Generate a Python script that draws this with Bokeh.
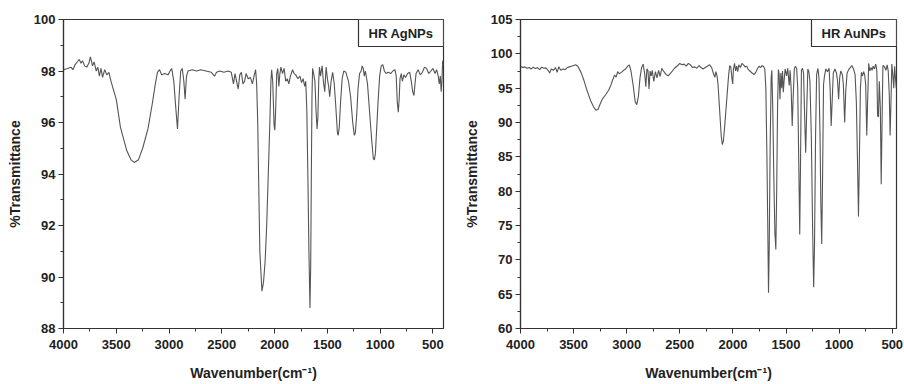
from bokeh.plotting import figure
from bokeh.models import Range1d, SingleIntervalTicker, Label
from bokeh.layouts import row
from bokeh.embed import file_html
from bokeh.resources import INLINE

# ---------------- data: HR AgNPs ----------------
ag_wn = [4000, 3960, 3930, 3910, 3890, 3870, 3850, 3835, 3820, 3800, 3780, 3760, 3745, 3725, 3710,
         3690, 3675, 3660, 3645, 3630, 3610, 3590, 3570, 3550, 3500, 3460, 3400, 3360, 3330, 3290,
         3250, 3200, 3160, 3130, 3110, 3090, 3070, 3040, 3010, 2990, 2975, 2955, 2935, 2920, 2905,
         2890, 2875, 2860, 2848, 2835, 2820, 2780, 2740, 2700, 2650, 2600, 2570, 2550, 2520, 2480,
         2440, 2410, 2390, 2375, 2360, 2345, 2330, 2315, 2300, 2285, 2270, 2250, 2230, 2210, 2195,
         2180, 2170, 2160, 2150, 2140, 2120, 2105, 2090, 2075, 2060, 2045, 2035, 2028, 2018, 2005,
         1998, 1990, 1980, 1970, 1960, 1950, 1940, 1925, 1910, 1895, 1880, 1865, 1850, 1830, 1815,
         1800, 1780, 1760, 1745, 1730, 1715, 1705, 1695, 1685, 1675, 1665, 1658, 1652, 1646, 1640,
         1630, 1618, 1608, 1598, 1590, 1582, 1575, 1565, 1550, 1538, 1525, 1512, 1500, 1488, 1478,
         1465, 1450, 1435, 1420, 1405, 1398, 1388, 1375, 1360, 1345, 1325, 1300, 1280, 1260, 1245,
         1235, 1222, 1210, 1195, 1180, 1170, 1160, 1150, 1140, 1120, 1100, 1080, 1065, 1055, 1045,
         1035, 1020, 1005, 990, 975, 960, 945, 925, 900, 880, 860, 848, 838, 828, 820,
         812, 800, 790, 775, 760, 740, 720, 705, 692, 680, 670, 660, 640, 620, 600,
         580, 560, 540, 520, 500, 480, 465, 450, 440, 430, 422, 415, 408, 400]
ag_t = [98.05, 98.1, 98.15, 98.05, 98.25, 98.35, 98.45, 98.3, 98.4, 98.2, 98.15, 98.3, 98.55, 98.2, 98.35,
        98.0, 98.15, 97.8, 98.1, 97.75, 98.05, 97.85, 97.95, 97.6, 96.9, 95.8, 94.9, 94.55, 94.45, 94.55,
        95.0, 95.75, 96.7, 97.5, 97.95, 98.05, 97.85, 97.9, 97.85, 98.0, 98.1, 97.6, 96.5, 95.75, 97.0,
        98.0, 98.1, 97.6, 96.9, 97.8, 98.0, 98.05, 98.0, 98.05, 98.0, 97.95, 97.8, 97.95, 98.0, 97.95,
        98.0, 97.95, 97.5, 97.9, 97.6, 97.3, 97.85, 97.95, 97.5, 97.6, 97.9, 97.7, 97.75, 97.5, 97.8,
        98.05, 97.5, 96.0, 93.5, 91.0, 89.45, 89.8, 90.6, 92.0, 94.0, 96.0, 97.6, 98.05, 97.6, 95.9,
        95.7, 96.5, 97.9, 98.1, 97.4, 97.9, 98.15, 97.9, 98.1, 97.6, 97.7, 97.5, 97.8, 98.05, 97.9,
        97.85, 97.7, 97.8, 97.55, 97.7, 97.4, 97.6, 96.5, 94.0, 91.0, 88.8, 90.5, 94.0, 97.0, 98.1,
        97.9, 97.6, 96.5, 95.75, 96.2, 97.6, 98.15, 97.8, 98.2, 97.6, 97.2, 98.15, 97.7, 97.4, 97.0,
        97.6, 97.95, 97.5, 96.6, 95.6, 95.5, 95.8, 96.8, 97.7, 98.0, 97.95, 97.6, 97.0, 96.0, 95.5,
        95.6, 96.3, 97.3, 97.9, 98.0, 98.2, 98.1, 97.8, 98.0, 97.5, 96.4, 95.3, 94.6, 94.55, 94.8,
        95.6, 96.8, 97.8, 98.2, 98.25, 98.0, 97.9, 97.95, 97.9, 98.0, 98.05, 97.8, 96.8, 96.4, 96.9,
        97.7, 97.9, 97.6, 97.85, 97.75, 97.9, 97.95, 97.6, 97.2, 97.05, 97.5, 97.9, 98.05, 97.85, 97.95,
        98.15, 98.1, 97.9, 98.0, 98.1, 97.9, 98.05, 97.8, 97.5, 97.8, 97.2, 97.6, 98.4, 98.2]

# ---------------- data: HR AuNPs ----------------
au_wn = [4000, 3980, 3960, 3940, 3920, 3900, 3880, 3860, 3840, 3820, 3800, 3780, 3760, 3740, 3725,
         3710, 3690, 3670, 3655, 3640, 3620, 3600, 3580, 3560, 3540, 3520, 3500, 3480, 3460, 3430,
         3400, 3370, 3340, 3310, 3290, 3270, 3250, 3230, 3200, 3170, 3150, 3130, 3115, 3100, 3085,
         3070, 3050, 3030, 3010, 2990, 2975, 2960, 2940, 2920, 2905, 2890, 2875, 2860, 2845, 2830,
         2820, 2810, 2800, 2790, 2780, 2770, 2760, 2745, 2730, 2715, 2700, 2685, 2670, 2650, 2630,
         2610, 2580, 2550, 2520, 2500, 2480, 2460, 2440, 2420, 2400, 2380, 2360, 2340, 2320, 2300,
         2280, 2260, 2240, 2220, 2200, 2185, 2170, 2160, 2150, 2140, 2130, 2120, 2110, 2100, 2090,
         2080, 2070, 2060, 2050, 2040, 2030, 2020, 2010, 2002, 1995, 1985, 1975, 1965, 1955, 1945,
         1930, 1915, 1900, 1885, 1870, 1855, 1840, 1820, 1800, 1785, 1770, 1755, 1740, 1725, 1710,
         1700, 1690, 1680, 1672, 1665, 1658, 1650, 1640, 1634, 1625, 1615, 1605, 1596, 1588, 1580,
         1572, 1565, 1557, 1549, 1541, 1533, 1526, 1516, 1508, 1495, 1484, 1470, 1462, 1452, 1442,
         1432, 1422, 1412, 1400, 1390, 1380, 1371, 1363, 1355, 1345, 1335, 1325, 1315, 1305, 1295,
         1285, 1275, 1262, 1250, 1240, 1232, 1222, 1212, 1200, 1190, 1180, 1172, 1164, 1156, 1147,
         1138, 1125, 1110, 1095, 1085, 1075, 1066, 1055, 1040, 1025, 1015, 1005, 995, 985, 970,
         960, 948, 938, 925, 910, 895, 880, 865, 850, 838, 828, 818, 810, 800, 790,
         780, 770, 760, 750, 740, 732, 722, 712, 700, 690, 680, 668, 655, 645, 638,
         630, 622, 612, 604, 596, 588, 575, 560, 548, 538, 528, 520, 512, 504, 495,
         486, 478, 470, 462]
au_t = [98.2, 98.0, 98.1, 97.9, 98.0, 97.8, 98.05, 97.85, 98.0, 97.7, 98.05, 97.9, 97.95, 97.6, 97.2,
        97.8, 97.6, 98.0, 97.3, 98.1, 97.6, 97.8, 97.7, 98.0, 98.1, 98.2, 98.3, 98.4, 98.2, 97.3,
        96.0, 94.5, 93.2, 92.2, 91.8, 91.9, 92.7, 93.4, 94.0, 94.7, 95.4, 96.3, 96.9, 96.6, 97.4,
        97.1, 97.3, 97.6, 97.8, 98.2, 98.4, 97.5, 95.5, 93.0, 92.6, 93.8, 96.5, 98.0, 98.5, 97.0,
        95.2, 97.8, 97.6, 94.9, 97.5, 96.8, 97.6, 96.0, 97.4, 96.5, 97.6, 96.7, 97.9, 97.4, 97.0,
        96.8, 97.3, 97.9, 98.3, 98.6, 98.4, 98.5, 98.2, 98.6, 98.4, 98.0, 98.1, 97.9, 98.3, 98.0,
        97.8, 98.0, 98.2, 98.4, 98.0, 97.2, 96.6, 97.4, 96.8, 95.5, 93.0, 90.5, 88.0, 86.8, 87.3,
        89.0, 91.0, 93.0, 95.0, 97.0, 98.3, 98.1, 96.5, 95.6, 97.8, 98.6, 97.5, 98.2, 97.4, 98.4,
        98.0, 98.6, 98.4, 98.1, 98.2, 97.7, 97.5, 97.2, 97.0, 97.3, 97.8, 98.2, 98.0, 98.3, 98.1,
        97.8, 95.0, 85.0, 75.0, 65.2, 72.0, 86.0, 96.5, 97.6, 92.0, 82.0, 74.0, 71.5, 80.0, 92.0,
        97.7, 97.0, 93.4, 97.2, 95.0, 97.5, 94.4, 96.5, 97.8, 96.8, 97.9, 95.4, 97.6, 95.0, 89.5,
        94.0, 97.8, 98.2, 97.9, 95.0, 84.0, 73.7, 85.0, 97.6, 97.9, 97.2, 91.0, 85.6, 92.0, 97.8,
        97.4, 96.0, 88.0, 75.0, 66.0, 72.0, 88.0, 97.0, 97.9, 96.5, 88.0, 78.0, 72.3, 82.0, 95.5,
        96.8, 97.8, 97.4, 97.9, 95.0, 89.5, 93.0, 97.2, 97.8, 97.2, 96.0, 93.4, 96.5, 97.5, 97.0,
        95.5, 90.0, 94.5, 97.2, 97.7, 98.0, 98.3, 97.8, 97.0, 93.0, 85.0, 76.3, 84.0, 95.0, 97.3,
        96.8, 97.4, 97.0, 95.5, 88.1, 93.0, 98.6, 97.5, 98.0, 97.6, 98.2, 97.8, 98.5, 97.5, 91.0,
        90.8, 96.0, 92.0, 81.0, 90.0, 98.3, 98.2, 97.6, 98.4, 97.5, 94.0, 88.1, 93.0, 98.5, 97.0,
        95.0, 98.2, 96.5, 95.0]

x_ticks_interval = 500
FONT = "Liberation Sans"
LINE = "#555555"
FRAME = "#333333"


def make_panel(wn, t, x_end, y_start, y_end, y_int, legend, width, bl, br):
    p = figure(width=width, height=384, output_backend="svg", toolbar_location=None,
               x_range=Range1d(4000, x_end), y_range=Range1d(y_start, y_end),
               min_border_left=bl, min_border_right=br, min_border_top=19, min_border_bottom=56)
    p.line(wn, t, line_color=LINE, line_width=1.1)
    p.xgrid.visible = False
    p.ygrid.visible = False
    p.background_fill_color = "white"
    p.border_fill_color = "white"
    p.outline_line_color = FRAME
    p.outline_line_width = 1.2
    p.xaxis.ticker = SingleIntervalTicker(interval=x_ticks_interval, num_minor_ticks=2)
    p.yaxis.ticker = SingleIntervalTicker(interval=y_int, num_minor_ticks=2)
    for ax in (p.xaxis[0], p.yaxis[0]):
        ax.axis_line_color = FRAME
        ax.axis_line_width = 1.2
        ax.major_tick_line_color = FRAME
        ax.minor_tick_line_color = FRAME
        ax.major_tick_in = 0
        ax.major_tick_out = 5
        ax.minor_tick_in = 0
        ax.minor_tick_out = 3
        ax.major_label_text_font = FONT
        ax.major_label_text_font_style = "bold"
        ax.major_label_text_font_size = "13px"
        ax.major_label_text_color = "#222222"
        ax.axis_label_text_font = FONT
        ax.axis_label_text_font_style = "bold"
        ax.axis_label_text_font_size = "14px"
        ax.axis_label_text_color = "#222222"
    p.xaxis.axis_label = "Wavenumber(cm\u207b\u00b9)"
    p.yaxis.axis_label = "%Transmittance"
    p.xaxis.major_label_standoff = 6
    p.yaxis.major_label_standoff = 3
    p.xaxis.axis_label_standoff = 13
    p.yaxis.axis_label_standoff = 8
    lab = Label(x=x_end, y=y_end, x_units="data", y_units="data", text=legend,
                anchor="top_right", text_font=FONT, text_font_style="bold",
                text_font_size="13px", text_color="#222222",
                border_line_color=FRAME, border_line_width=1.2,
                background_fill_color="white",
                padding=dict(left=10, right=10, top=6, bottom=6))
    p.add_layout(lab)
    return p


p1 = make_panel(ag_wn, ag_t, 400, 88, 100, 2, "HR AgNPs", 460, 63, 17)
p2 = make_panel(au_wn, au_t, 460, 60, 105, 5, "HR AuNPs", 444, 58, 8)

layout = row(p1, p2)
open("out.html", "w").write(file_html(layout, INLINE))
